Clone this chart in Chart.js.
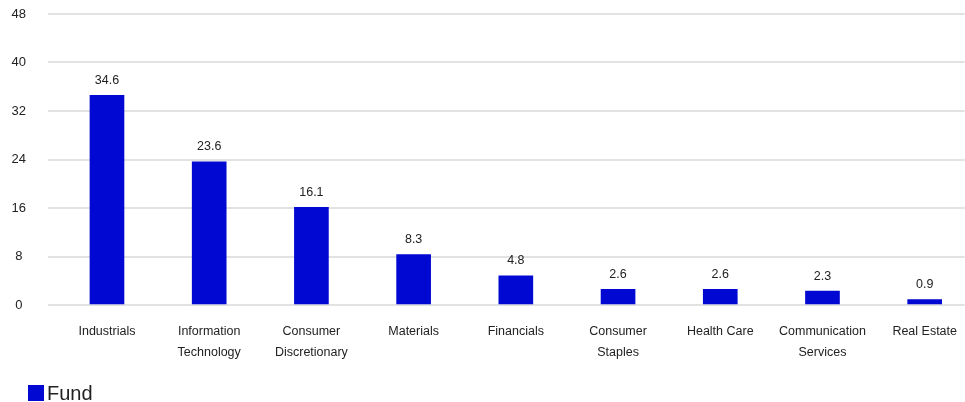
<!DOCTYPE html>
<html>
<head>
<meta charset="utf-8">
<script src="https://cdn.jsdelivr.net/npm/chart.js@4"></script>
<style>
  html, body { margin: 0; padding: 0; background: #fff; }
  #wrap { width: 965px; height: 402px; }
</style>
</head>
<body>
<div id="wrap"><canvas id="sectorChart"></canvas></div>
<script>
// Sector weights (%)
const sectors = [
  ['Industrials'],
  ['Information', 'Technology'],
  ['Consumer', 'Discretionary'],
  ['Materials'],
  ['Financials'],
  ['Consumer', 'Staples'],
  ['Health Care'],
  ['Communication', 'Services'],
  ['Real Estate']
];
const fundValues = [34.6, 23.6, 16.1, 8.3, 4.8, 2.6, 2.6, 2.3, 0.9];
const yTicks = [0, 8, 16, 24, 32, 40, 48];

const barColor = '#0008D2';
const fontFamily = '"Liberation Sans", Arial, sans-serif';

// Draw value labels above bars
const valueLabels = {
  id: 'valueLabels',
  afterDatasetsDraw(chart) {
    const ctx = chart.ctx;
    const meta = chart.getDatasetMeta(0);
    ctx.save();
    ctx.font = '12.5px ' + fontFamily;
    ctx.fillStyle = '#222';
    ctx.textAlign = 'center';
    ctx.textBaseline = 'middle';
    meta.data.forEach((bar, i) => {
      ctx.fillText(fundValues[i].toFixed(1), bar.x, bar.y - 15);
    });
    ctx.restore();
  }
};

// Simple legend in the bottom-left corner
const fundLegend = {
  id: 'fundLegend',
  afterDraw(chart) {
    const ctx = chart.ctx;
    const ds = chart.data.datasets[0];
    ctx.save();
    ctx.fillStyle = ds.backgroundColor;
    ctx.fillRect(28, 385, 16, 16);
    ctx.font = '20px ' + fontFamily;
    ctx.fillStyle = '#222';
    ctx.textAlign = 'left';
    ctx.textBaseline = 'middle';
    ctx.fillText(ds.label, 47, 394);
    ctx.restore();
  }
};

const ctx = document.getElementById('sectorChart').getContext('2d');
new Chart(ctx, {
  type: 'bar',
  data: {
    datasets: [{
      label: 'Fund',
      data: fundValues.map((v, i) => ({ x: i, y: v })),
      backgroundColor: barColor,
      borderWidth: 0,
      barThickness: 34
    }]
  },
  options: {
    responsive: true,
    maintainAspectRatio: false,
    animation: false,
    layout: { padding: { top: 14, right: 0, left: 0, bottom: 37 } },
    plugins: {
      legend: { display: false },
      tooltip: { enabled: false }
    },
    scales: {
      x: {
        type: 'linear',
        offset: false,
        min: -0.577,
        max: 8.391,
        afterBuildTicks: axis => {
          axis.ticks = sectors.map((_, i) => ({ value: i }));
        },
        afterFit: axis => { axis.height = 60; },
        grid: { display: false },
        border: { display: false },
        ticks: {
          autoSkip: false,
          maxRotation: 0,
          padding: 8,
          color: '#222',
          font: { size: 12.5, family: fontFamily, lineHeight: 1.7 },
          callback: value => sectors[value] || ''
        }
      },
      y: {
        min: 0,
        max: 48,
        afterBuildTicks: axis => {
          axis.ticks = yTicks.map(v => ({ value: v }));
        },
        afterFit: axis => {
          axis.width = 48;
          axis.paddingTop = 0;
          axis.paddingBottom = 0;
        },
        grid: { color: '#e2e2e2', lineWidth: 2, drawTicks: false },
        border: { display: false },
        ticks: {
          padding: 22,
          crossAlign: 'center',
          color: '#222',
          font: { size: 13, family: fontFamily }
        }
      }
    }
  },
  plugins: [valueLabels, fundLegend]
});
</script>
</body>
</html>
